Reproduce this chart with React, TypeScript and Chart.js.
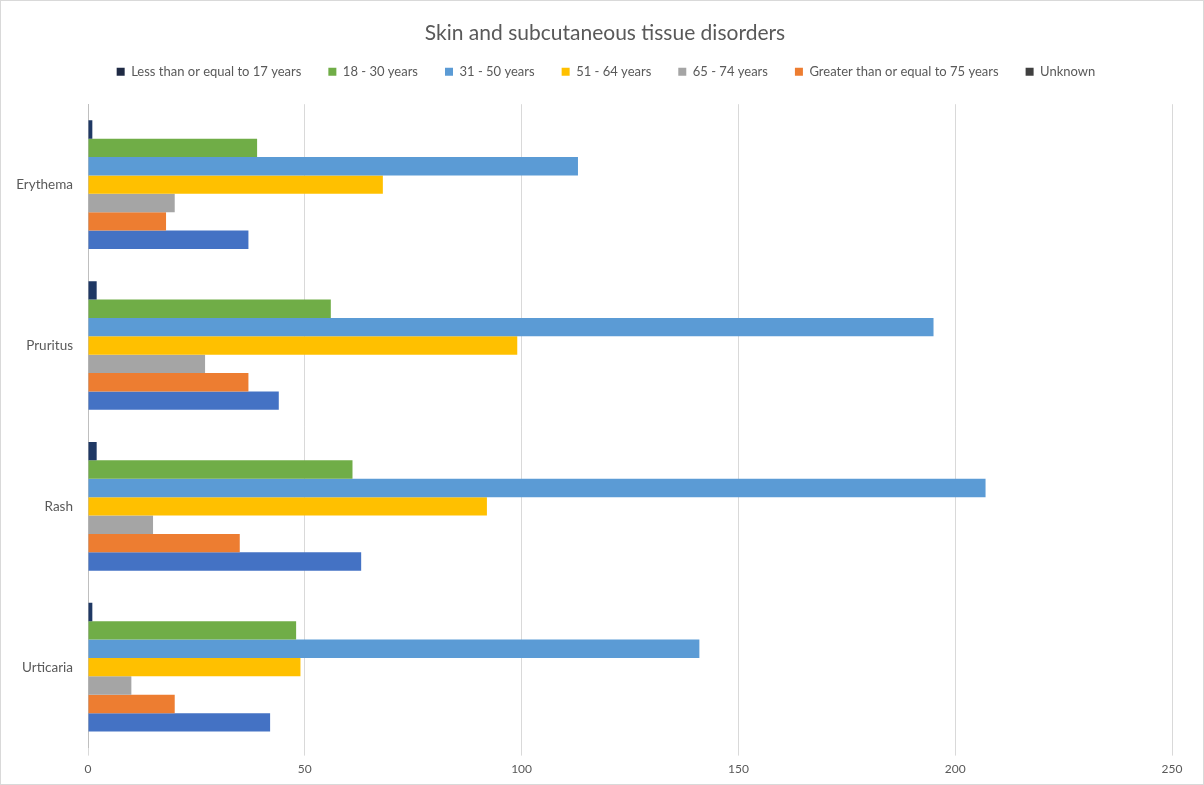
import React, { useEffect, useRef } from "react";
import { Chart, registerables } from "chart.js";

Chart.register(...registerables);

const categories = ["Erythema", "Pruritus", "Rash", "Urticaria"];
const seriesNames = [
  "Less than or equal to 17 years",
  "18 - 30 years",
  "31 - 50 years",
  "51 - 64 years",
  "65 - 74 years",
  "Greater than or equal to 75 years",
  "Unknown",
];
const under17 = [1, 2, 2, 1];
const age18to30 = [39, 56, 61, 48];
const age31to50 = [113, 195, 207, 141];
const age51to64 = [68, 99, 92, 49];
const age65to74 = [20, 27, 15, 10];
const over75 = [18, 37, 35, 20];
const unknown = [37, 44, 63, 42];
const xTicks = [0, 50, 100, 150, 200, 250];

const seriesValues = [under17, age18to30, age31to50, age51to64, age65to74, over75, unknown];
const barColors = ["#1F3864", "#70AD47", "#5B9BD5", "#FFC000", "#A5A5A5", "#ED7D31", "#4472C4"];
const legendColors = ["#1F2A44", "#70AD47", "#5B9BD5", "#FFC000", "#A5A5A5", "#ED7D31", "#404040"];

const FONT = "Lato, 'Open Sans', sans-serif";

const headerAdjust = {
  id: "headerAdjust",
  beforeInit(chart: any) {
    const legend = chart.legend;
    if (!legend) return;
    const fit = legend.fit;
    legend.fit = function () {
      fit.call(this);
      this.height += 8;
    };
  },
  afterLayout(chart: any) {
    const legend = chart.legend;
    if (legend) {
      legend.top -= 8;
      legend.bottom -= 8;
      legend.left += 16;
      legend.right += 16;
    }
    const title = chart.titleBlock;
    if (title) {
      title.left += 15;
      title.right += 15;
    }
  },
};

export default function App() {
  const ref = useRef<HTMLCanvasElement | null>(null);

  useEffect(() => {
    document.body.style.margin = "0";
    if (!ref.current) return;
    const chart = new Chart(ref.current, {
      type: "bar",
      data: {
        labels: categories,
        datasets: seriesNames.map((name, i) => ({
          label: name,
          data: seriesValues[i],
          backgroundColor: barColors[i],
          borderWidth: 0,
          categoryPercentage: 0.8,
          barPercentage: 1.0,
        })),
      },
      plugins: [headerAdjust],
      options: {
        indexAxis: "y",
        animation: false,
        responsive: false,
        maintainAspectRatio: false,
        layout: { padding: { top: 14, left: 7, right: 31, bottom: 2 } },
        plugins: {
          title: {
            display: true,
            text: "Skin and subcutaneous tissue disorders",
            color: "#595959",
            font: { family: FONT, size: 21, weight: "normal" },
            padding: { top: 6, bottom: 0 },
          },
          legend: {
            position: "top",
            labels: {
              color: "#595959",
              font: { family: FONT, size: 13 },
              boxWidth: 8,
              boxHeight: 8,
              padding: 27,
              generateLabels: (c: any) =>
                c.data.datasets.map((d: any, i: number) => ({
                  text: d.label,
                  fillStyle: legendColors[i],
                  strokeStyle: legendColors[i],
                  lineWidth: 0,
                  hidden: false,
                  datasetIndex: i,
                  fontColor: "#595959",
                })),
            },
          },
          tooltip: { enabled: false },
        },
        scales: {
          x: {
            min: 0,
            max: 250,
            afterBuildTicks: (scale: any) => {
              scale.ticks = xTicks.map((v) => ({ value: v }));
            },
            grid: {
              color: "#D9D9D9",
              drawTicks: true,
              tickLength: 8,
            },
            border: { display: false },
            ticks: {
              color: "#595959",
              font: { family: FONT, size: 12 },
              padding: 6,
            },
          },
          y: {
            afterFit: (scale: any) => {
              scale.width = 80;
            },
            grid: { display: false, drawTicks: false },
            border: { display: true, color: "#BFBFBF", width: 1 },
            ticks: {
              color: "#595959",
              font: { family: FONT, size: 13.5 },
              padding: 15,
            },
          },
        },
      },
    });
    return () => chart.destroy();
  }, []);

  return (
    <div
      style={{
        width: 1204,
        height: 785,
        boxSizing: "border-box",
        border: "1px solid #D9D9D9",
        background: "#fff",
      }}
    >
      <canvas ref={ref} width={1202} height={783} style={{ display: "block" }} />
    </div>
  );
}
